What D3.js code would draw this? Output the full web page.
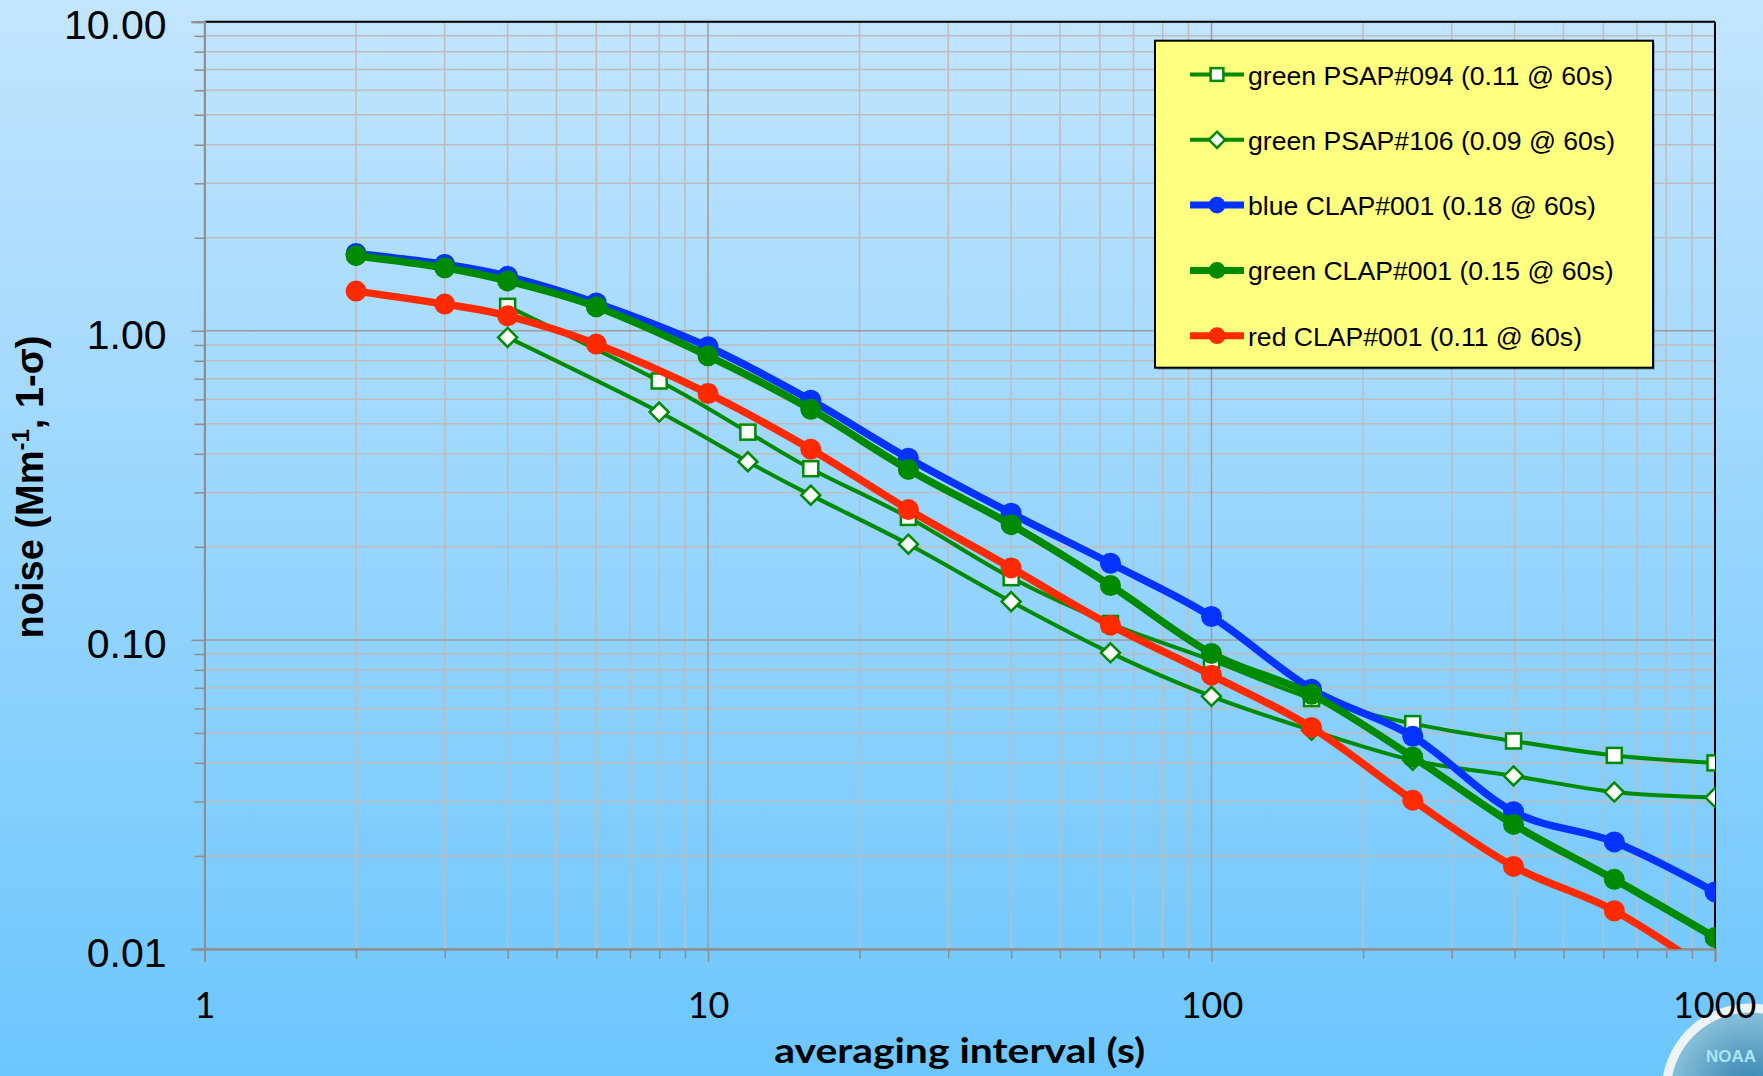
<!DOCTYPE html>
<html>
<head>
<meta charset="utf-8">
<script src="https://cdn.jsdelivr.net/npm/d3@7"></script>
<style>
html,body{margin:0;padding:0;overflow:hidden;}
svg{display:block;}
</style>
</head>
<body>
<svg id="chart" width="1763" height="1076"></svg>
<script>
// ---------- data ----------
const clapX = [2, 3, 4, 6, 10, 16, 25, 40, 63, 100, 158, 251, 398, 631, 1000];
const psapX = [4, 8, 12, 16, 25, 40, 63, 100, 158, 251, 398, 631, 1000];

const greenPsap094 = [1.20, 0.688, 0.470, 0.358, 0.249, 0.159, 0.113, 0.086, 0.0646, 0.0536, 0.0471, 0.0423, 0.0400];
const greenPsap106 = [0.952, 0.546, 0.377, 0.294, 0.204, 0.133, 0.0908, 0.0657, 0.0510, 0.0408, 0.0363, 0.0322, 0.0309];
const blueClap001  = [1.78, 1.64, 1.50, 1.23, 0.888, 0.596, 0.387, 0.257, 0.177, 0.119, 0.0693, 0.0488, 0.0278, 0.0222, 0.0153];
const greenClap001 = [1.75, 1.60, 1.45, 1.196, 0.830, 0.557, 0.356, 0.236, 0.150, 0.0904, 0.0667, 0.0418, 0.0253, 0.0168, 0.0109];
const redClap001   = [1.344, 1.22, 1.118, 0.906, 0.627, 0.414, 0.264, 0.171, 0.1116, 0.0769, 0.0521, 0.0303, 0.0185, 0.0133, 0.0082];

const seriesNames = [
  "green PSAP#094 (0.11 @ 60s)",
  "green PSAP#106 (0.09 @ 60s)",
  "blue CLAP#001 (0.18 @ 60s)",
  "green CLAP#001 (0.15 @ 60s)",
  "red CLAP#001 (0.11 @ 60s)"
];

const yTickValues = [0.01, 0.1, 1, 10];
const yTickLabels = ["0.01", "0.10", "1.00", "10.00"];
const xTickValues = [1, 10, 100, 1000];
const xTickLabels = ["1", "10", "100", "1000"];

const xTitle = "averaging interval (s)";

// ---------- layout ----------
const W = 1763, H = 1076;
const L = 204.5, R = 1715, T = 21.7, B = 949;

const COL_BLUE = "#0433ff", COL_GREEN = "#008a00", COL_RED = "#ff2a00";

const series = [
  {name: seriesNames[0], xs: psapX, ys: greenPsap094, color: COL_GREEN, width: 4, marker: "square"},
  {name: seriesNames[1], xs: psapX, ys: greenPsap106, color: COL_GREEN, width: 4, marker: "diamond"},
  {name: seriesNames[2], xs: clapX, ys: blueClap001, color: COL_BLUE, width: 7.5, marker: "circle"},
  {name: seriesNames[3], xs: clapX, ys: greenClap001, color: COL_GREEN, width: 7.5, marker: "circle"},
  {name: seriesNames[4], xs: clapX, ys: redClap001, color: COL_RED, width: 7.5, marker: "circle"}
];

const svg = d3.select("#chart");
const defs = svg.append("defs");

const bg = defs.append("linearGradient").attr("id", "bg").attr("x1", 0).attr("y1", 0).attr("x2", 0).attr("y2", 1);
bg.append("stop").attr("offset", "0%").attr("stop-color", "#c3e5fd");
bg.append("stop").attr("offset", "100%").attr("stop-color", "#6cc6fc");

defs.append("clipPath").attr("id", "plotclip")
  .append("rect").attr("x", L).attr("y", T).attr("width", R - L).attr("height", B - T);

svg.append("rect").attr("width", W).attr("height", H).attr("fill", "url(#bg)");

const x = d3.scaleLog().domain([1, 1000]).range([L, R]);
const y = d3.scaleLog().domain([0.01, 10]).range([B, T]);

// minor values
const minorX = [], minorY = [];
for (let d = 1; d < 1000; d *= 10) for (let k = 2; k <= 9; k++) minorX.push(d * k);
for (let d = 0.01; d < 10; d *= 10) for (let k = 2; k <= 9; k++) minorY.push(+(d * k).toPrecision(3));

const grid = svg.append("g");
grid.selectAll(".mx").data(minorX).enter().append("line")
  .attr("x1", d => x(d)).attr("x2", d => x(d)).attr("y1", T).attr("y2", B)
  .attr("stroke", "#bdbdbd").attr("stroke-width", 1.5);
grid.selectAll(".my").data(minorY).enter().append("line")
  .attr("x1", L).attr("x2", R).attr("y1", d => y(d)).attr("y2", d => y(d))
  .attr("stroke", "#bdbdbd").attr("stroke-width", 1.5);
grid.selectAll(".Mx").data(xTickValues).enter().append("line")
  .attr("x1", d => x(d)).attr("x2", d => x(d)).attr("y1", T).attr("y2", B)
  .attr("stroke", "#9c9c9c").attr("stroke-width", 1.5);
grid.selectAll(".My").data(yTickValues).enter().append("line")
  .attr("x1", L).attr("x2", R).attr("y1", d => y(d)).attr("y2", d => y(d))
  .attr("stroke", "#9c9c9c").attr("stroke-width", 1.5);

// plot border (top, right)
svg.append("line").attr("x1", L).attr("x2", R).attr("y1", T).attr("y2", T).attr("stroke", "#000").attr("stroke-width", 2);
svg.append("line").attr("x1", R).attr("x2", R).attr("y1", T).attr("y2", B).attr("stroke", "#000").attr("stroke-width", 2);

// axes
const xAxisMinor = d3.axisBottom(x).tickValues(minorX).tickSize(10).tickFormat("");
const xAxisMajor = d3.axisBottom(x).tickValues(xTickValues).tickSize(13).tickFormat((d, i) => xTickLabels[i]).tickPadding(30);
const yAxisMinor = d3.axisLeft(y).tickValues(minorY).tickSize(10).tickFormat("");
const yAxisMajor = d3.axisLeft(y).tickValues(yTickValues).tickSize(13).tickFormat((d, i) => yTickLabels[i]).tickPadding(25);

function styleAxis(g) {
  g.selectAll("path.domain").attr("stroke", "#8f8f8f").attr("stroke-width", 2);
  g.selectAll(".tick line").attr("stroke", "#8f8f8f").attr("stroke-width", 1.5);
}
svg.append("g").attr("transform", `translate(0,${B})`).call(xAxisMinor).call(styleAxis);
svg.append("g").attr("transform", `translate(${L},0)`).call(yAxisMinor).call(styleAxis);
const gy = svg.append("g").attr("transform", `translate(${L},0)`).call(yAxisMajor).call(styleAxis);
gy.selectAll(".tick text").attr("font-family", "'Liberation Sans', Arial, sans-serif").attr("font-size", 41).attr("fill", "#000").attr("dy", "0.42em");

// ---------- NOAA logo (decorative, partially visible) ----------
const logo = svg.append("g");
const lg = defs.append("radialGradient").attr("id", "logoG");
lg.append("stop").attr("offset", "0%").attr("stop-color", "#2f7fae");
lg.append("stop").attr("offset", "100%").attr("stop-color", "#8cc3dc");
logo.append("circle").attr("cx", 1750).attr("cy", 1092).attr("r", 84)
  .attr("fill", "url(#logoG)").attr("stroke", "#eef4f6").attr("stroke-width", 9);
logo.append("text").attr("x", 1706).attr("y", 1062).text("NOAA")
  .attr("font-family", "'Liberation Sans', sans-serif").attr("font-weight", "bold")
  .attr("font-size", 17).attr("fill", "#a8e6f4");

const gx = svg.append("g").attr("transform", `translate(0,${B})`).call(xAxisMajor).call(styleAxis);
gx.selectAll(".tick text").attr("font-family", "Lato, 'Open Sans', sans-serif").attr("font-size", 36).attr("fill", "#000").attr("dy", "0.71em");
gx.select(".tick:last-of-type text").attr("text-anchor", "end").attr("dx", 41);

// ---------- series ----------
const plot = svg.append("g").attr("clip-path", "url(#plotclip)");
const line = d3.line().curve(d3.curveCardinal.tension(0)).x(d => x(d[0])).y(d => y(d[1]));

function drawMarker(g, type, cx, cy, color, scale) {
  const s = scale || 1;
  if (type === "circle") {
    g.append("circle").attr("cx", cx).attr("cy", cy).attr("r", 10.5 * s).attr("fill", color);
  } else if (type === "square") {
    const h = 7.5 * s;
    g.append("rect").attr("x", cx - h).attr("y", cy - h).attr("width", 2 * h).attr("height", 2 * h)
      .attr("fill", "#fff").attr("stroke", color).attr("stroke-width", 2.5);
  } else {
    const h = 9.5 * s;
    g.append("path").attr("d", `M${cx},${cy - h}L${cx + h},${cy}L${cx},${cy + h}L${cx - h},${cy}Z`)
      .attr("fill", "#fff").attr("stroke", color).attr("stroke-width", 2.5);
  }
}

series.forEach(s => {
  const pts = s.xs.map((xv, i) => [xv, s.ys[i]]);
  plot.append("path").datum(pts).attr("d", line)
    .attr("fill", "none").attr("stroke", s.color).attr("stroke-width", s.width)
    .attr("stroke-linejoin", "round").attr("stroke-linecap", "round");
  const mg = plot.append("g");
  pts.forEach(p => {
    if (p[1] >= 0.01) drawMarker(mg, s.marker, x(p[0]), y(p[1]), s.color, 1);
  });
});

// ---------- legend ----------
const lgX = 1155, lgY = 40.7, lgW = 498, lgH = 327;
const leg = svg.append("g");
leg.append("rect").attr("x", lgX + 2).attr("y", lgY + 2).attr("width", lgW).attr("height", lgH).attr("fill", "rgba(0,0,0,0.25)");
leg.append("rect").attr("x", lgX).attr("y", lgY).attr("width", lgW).attr("height", lgH)
  .attr("fill", "#ffff80").attr("stroke", "#000").attr("stroke-width", 2);
series.forEach((s, i) => {
  const cy = 74.5 + i * 65.3;
  const g = leg.append("g");
  g.append("line").attr("x1", 1190).attr("x2", 1244).attr("y1", cy).attr("y2", cy)
    .attr("stroke", s.color).attr("stroke-width", s.width === 4 ? 4 : 7);
  drawMarker(g, s.marker, 1217, cy, s.color, s.marker === "circle" ? 0.8 : 0.85);
  g.append("text").attr("x", 1248).attr("y", cy + 10).text(s.name)
    .attr("font-family", "'Liberation Sans', Arial, sans-serif").attr("font-size", 26.6).attr("fill", "#000");
});

// ---------- axis titles ----------
svg.append("text").attr("x", (L + R) / 2).attr("y", 1063).attr("text-anchor", "middle")
  .attr("font-family", "Lato, 'Open Sans', sans-serif").attr("font-weight", "bold").attr("font-size", 35)
  .attr("textLength", 371).attr("lengthAdjust", "spacingAndGlyphs")
  .attr("fill", "#000").text(xTitle);

const yt = svg.append("text").attr("transform", "translate(43,487) rotate(-90)").attr("text-anchor", "middle")
  .attr("font-family", "'Liberation Sans', Arial, sans-serif").attr("font-weight", "bold").attr("font-size", 38).attr("fill", "#000");
yt.append("tspan").text("noise (Mm");
yt.append("tspan").text("-1").attr("font-size", 24).attr("dy", -14);
yt.append("tspan").text(", 1-σ)").attr("dy", 14);
</script>
</body>
</html>
